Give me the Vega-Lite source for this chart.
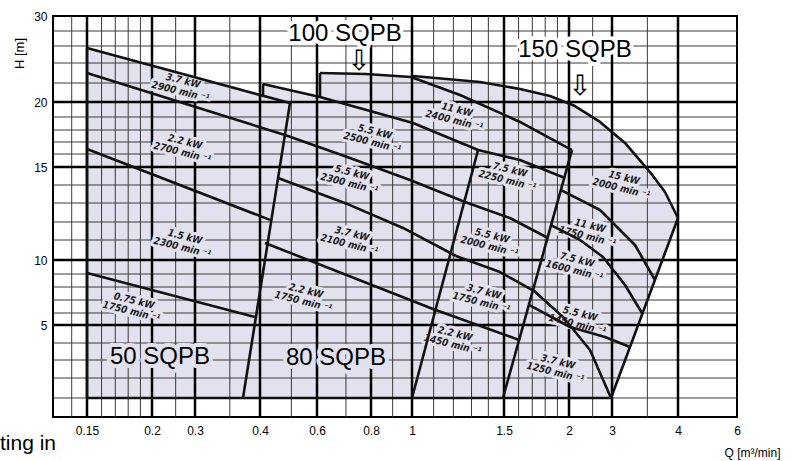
{
"$schema": "https://vega.github.io/schema/vega-lite/v6.json",
"width": 684, "height": 401,
"autosize": {"type": "none"},
"padding": {"left": 53, "top": 16, "right": 70, "bottom": 44},
"background": "#ffffff",
"config": {
  "view": {"stroke": "#000", "strokeWidth": 2},
  "font": "Liberation Sans",
  "axis": {"grid": false, "ticks": false, "domain": false, "labelFlush": false, "labelOverlap": false, "labelFont": "Liberation Sans", "labelFontSize": 12, "labelColor": "#000", "titleFont": "Liberation Sans", "titleFontWeight": "normal", "titleColor": "#000"}
},
"datasets": {
  "region": [
    {"q": 0.15, "h": 25.76, "h2": 1}, {"q": 0.4086, "h": 20.66, "h2": 1}, {"q": 0.4101, "h": 21.9, "h2": 1},
    {"q": 0.6097, "h": 20.53, "h2": 1}, {"q": 0.6113, "h": 23.0, "h2": 1}, {"q": 0.779, "h": 22.9, "h2": 1},
    {"q": 0.9946, "h": 22.6, "h2": 1}, {"q": 1.0044, "h": 22.7, "h2": 1}, {"q": 1.3495, "h": 22.1, "h2": 1},
    {"q": 1.61, "h": 21.37, "h2": 1}, {"q": 1.839, "h": 20.63, "h2": 1}, {"q": 2.116, "h": 19.73, "h2": 1},
    {"q": 2.679, "h": 18.62, "h2": 1}, {"q": 2.972, "h": 17.9, "h2": 1},
    {"q": 3.013, "h": 17.76, "h2": 1.27}, {"q": 3.175, "h": 16.92, "h2": 2.98}, {"q": 3.54, "h": 14.72, "h2": 7.52},
    {"q": 3.78, "h": 13.61, "h2": 10.36}, {"q": 4, "h": 12.21, "h2": 12.21}
  ],
  "vminor": [{"q": 0.125}, {"q": 0.16}, {"q": 0.17}, {"q": 0.18}, {"q": 0.19}, {"q": 0.25}, {"q": 0.35}, {"q": 0.5}, {"q": 0.7}, {"q": 0.9}, {"q": 1.1}, {"q": 1.2}, {"q": 1.3}, {"q": 1.4}, {"q": 1.6}, {"q": 1.7}, {"q": 1.8}, {"q": 1.9}, {"q": 2.5}, {"q": 3.5}],
  "vmajor": [{"q": 0.15}, {"q": 0.2}, {"q": 0.3}, {"q": 0.4}, {"q": 0.6}, {"q": 0.8}, {"q": 1}, {"q": 1.5}, {"q": 2}, {"q": 3}, {"q": 4}],
  "hminor": [{"h": 1}, {"h": 2}, {"h": 3}, {"h": 4}, {"h": 6}, {"h": 7}, {"h": 8}, {"h": 9}, {"h": 11}, {"h": 12}, {"h": 13}, {"h": 14}, {"h": 16}, {"h": 17}, {"h": 18}, {"h": 19}, {"h": 22}, {"h": 24}, {"h": 26}, {"h": 28}],
  "hmajor": [{"h": 5}, {"h": 10}, {"h": 15}, {"h": 20}],
  "curves": [
    {"id": "50a", "i": 0, "q": 0.15, "h": 25.76}, {"id": "50a", "i": 1, "q": 0.4952, "h": 19.93},
    {"id": "50b", "i": 0, "q": 0.15, "h": 23.0}, {"id": "50b", "i": 1, "q": 0.4778, "h": 17.58},
    {"id": "50c", "i": 0, "q": 0.15, "h": 16.42}, {"id": "50c", "i": 1, "q": 0.4295, "h": 12.11},
    {"id": "50d", "i": 0, "q": 0.15, "h": 9.07}, {"id": "50d", "i": 1, "q": 0.391, "h": 5.67},
    {"id": "edgeL", "i": 0, "q": 0.15, "h": 1}, {"id": "edgeL", "i": 1, "q": 0.15, "h": 25.76},
    {"id": "bottom", "i": 0, "q": 0.15, "h": 1}, {"id": "bottom", "i": 1, "q": 2.972, "h": 1},
    {"id": "B1", "i": 0, "q": 0.371, "h": 1}, {"id": "B1", "i": 1, "q": 0.4952, "h": 19.93},
    {"id": "V80", "i": 0, "q": 0.4086, "h": 21.9}, {"id": "V80", "i": 1, "q": 0.4086, "h": 20.63},
    {"id": "80a", "i": 0, "q": 0.4086, "h": 21.9}, {"id": "80a", "i": 1, "q": 0.6097, "h": 20.53}, {"id": "80a", "i": 2, "q": 1.0044, "h": 18.54}, {"id": "80a", "i": 3, "q": 1.338, "h": 16.33},
    {"id": "80b", "i": 0, "q": 0.4778, "h": 17.58}, {"id": "80b", "i": 1, "q": 0.7153, "h": 15.69}, {"id": "80b", "i": 2, "q": 0.9892, "h": 14.28}, {"id": "80b", "i": 3, "q": 1.263, "h": 13.06},
    {"id": "80c", "i": 0, "q": 0.4547, "h": 14.39}, {"id": "80c", "i": 1, "q": 0.7153, "h": 12.89}, {"id": "80c", "i": 2, "q": 0.9522, "h": 11.67}, {"id": "80c", "i": 3, "q": 1.214, "h": 10.2},
    {"id": "80d", "i": 0, "q": 0.4145, "h": 10.85}, {"id": "80d", "i": 1, "q": 1.097, "h": 6.31},
    {"id": "B2", "i": 0, "q": 1, "h": 1}, {"id": "B2", "i": 1, "q": 1.338, "h": 16.33},
    {"id": "V100", "i": 0, "q": 0.6097, "h": 23.0}, {"id": "V100", "i": 1, "q": 0.6097, "h": 20.53},
    {"id": "100a", "i": 0, "q": 0.6097, "h": 23.0}, {"id": "100a", "i": 1, "q": 0.779, "h": 22.9}, {"id": "100a", "i": 2, "q": 0.9946, "h": 22.6}, {"id": "100a", "i": 3, "q": 1.2356, "h": 20.74}, {"id": "100a", "i": 4, "q": 1.61, "h": 18.62}, {"id": "100a", "i": 5, "q": 2.057, "h": 16.33},
    {"id": "B3", "i": 0, "q": 1.493, "h": 1}, {"id": "B3", "i": 1, "q": 2.057, "h": 16.33},
    {"id": "100b", "i": 0, "q": 1.338, "h": 16.33}, {"id": "100b", "i": 1, "q": 1.61, "h": 15.54}, {"id": "100b", "i": 2, "q": 1.965, "h": 14.39},
    {"id": "100c", "i": 0, "q": 1.263, "h": 13.06}, {"id": "100c", "i": 1, "q": 1.54, "h": 12.21}, {"id": "100c", "i": 2, "q": 1.8225, "h": 11.11},
    {"id": "100d", "i": 0, "q": 1.214, "h": 10.2}, {"id": "100d", "i": 1, "q": 1.474, "h": 9.14}, {"id": "100d", "i": 2, "q": 1.698, "h": 7.77},
    {"id": "100e", "i": 0, "q": 1.097, "h": 6.31}, {"id": "100e", "i": 1, "q": 1.603, "h": 4.17},
    {"id": "150a", "i": 0, "q": 1.0044, "h": 22.7}, {"id": "150a", "i": 1, "q": 1.3495, "h": 22.1}, {"id": "150a", "i": 2, "q": 1.61, "h": 21.37}, {"id": "150a", "i": 3, "q": 1.839, "h": 20.63}, {"id": "150a", "i": 4, "q": 2.116, "h": 19.73}, {"id": "150a", "i": 5, "q": 2.679, "h": 18.62}, {"id": "150a", "i": 6, "q": 3.175, "h": 16.92}, {"id": "150a", "i": 7, "q": 3.54, "h": 14.72}, {"id": "150a", "i": 8, "q": 3.78, "h": 13.61}, {"id": "150a", "i": 9, "q": 4, "h": 12.21},
    {"id": "150b", "i": 0, "q": 1.9305, "h": 13.72}, {"id": "150b", "i": 1, "q": 2.679, "h": 12.63}, {"id": "150b", "i": 2, "q": 3.316, "h": 10.75}, {"id": "150b", "i": 3, "q": 3.618, "h": 8.54},
    {"id": "150c", "i": 0, "q": 1.847, "h": 11.83}, {"id": "150c", "i": 1, "q": 2.219, "h": 11}, {"id": "150c", "i": 2, "q": 2.756, "h": 10.15}, {"id": "150c", "i": 3, "q": 3.175, "h": 8.15}, {"id": "150c", "i": 4, "q": 3.419, "h": 6},
    {"id": "150d", "i": 0, "q": 1.6755, "h": 6.62}, {"id": "150d", "i": 1, "q": 2.019, "h": 4.89}, {"id": "150d", "i": 2, "q": 2.808, "h": 4.33}, {"id": "150d", "i": 3, "q": 3.245, "h": 3.76},
    {"id": "150e", "i": 0, "q": 1.7055, "h": 7.77}, {"id": "150e", "i": 1, "q": 1.948, "h": 5.67}, {"id": "150e", "i": 2, "q": 2.438, "h": 3.59}, {"id": "150e", "i": 3, "q": 2.972, "h": 1},
    {"id": "B5", "i": 0, "q": 2.972, "h": 1}, {"id": "B5", "i": 1, "q": 4, "h": 12.21}
  ],
  "kw": [
    {"q": 0.268, "h": 22.2, "t": "3.7 kW\n2900 min ⁻¹"},
    {"q": 0.273, "h": 17, "t": "2.2 kW\n2700 min ⁻¹"},
    {"q": 0.273, "h": 11.17, "t": "1.5 kW\n2300 min ⁻¹"},
    {"q": 0.1847, "h": 6.92, "t": "0.75 kW\n1750 min ⁻¹"},
    {"q": 0.8176, "h": 17.83, "t": "5.5 kW\n2500 min ⁻¹"},
    {"q": 0.723, "h": 14.67, "t": "5.5 kW\n2300 min ⁻¹"},
    {"q": 0.723, "h": 11.33, "t": "3.7 kW\n2100 min ⁻¹"},
    {"q": 0.5548, "h": 7.69, "t": "2.2 kW\n1750 min ⁻¹"},
    {"q": 1.219, "h": 19.47, "t": "11 kW\n2400 min ⁻¹"},
    {"q": 1.54, "h": 14.83, "t": "7.5 kW\n2250 min ⁻¹"},
    {"q": 1.423, "h": 11.22, "t": "5.5 kW\n2000 min ⁻¹"},
    {"q": 1.373, "h": 7.62, "t": "3.7 kW\n1750 min ⁻¹"},
    {"q": 1.209, "h": 4.5, "t": "2.2 kW\n1450 min ⁻¹"},
    {"q": 3.161, "h": 14.39, "t": "15 kW\n2000 min ⁻¹"},
    {"q": 2.438, "h": 11.78, "t": "11 kW\n1750 min ⁻¹"},
    {"q": 2.157, "h": 10, "t": "7.5 kW\n1600 min ⁻¹"},
    {"q": 2.219, "h": 5.92, "t": "5.5 kW\n1450 min ⁻¹"},
    {"q": 1.905, "h": 2.89, "t": "3.7 kW\n1250 min ⁻¹"}
  ],
  "bigIn": [{"q": 0.2157, "h": 3.18, "t": "50 SQPB"}, {"q": 0.664, "h": 3.12, "t": "80 SQPB"}],
  "bigOut": [{"q": 0.6965, "h": 27.6, "t": "100 SQPB"}, {"q": 2.116, "h": 25.53, "t": "150 SQPB"}],
  "arrows": [{"q": 0.7504, "h": 24.12, "t": "⇩"}, {"q": 2.219, "h": 21.58, "t": "⇩"}]
},
"layer": [
  {"data": {"name": "region"}, "mark": {"type": "area", "color": "#e2e2ee"},
   "encoding": {
     "x": {"field": "q", "type": "quantitative", "scale": {"type": "log", "domain": [0.1, 0.15, 0.2, 0.3, 0.4, 0.6, 0.8, 1, 1.5, 2, 3, 4, 6], "range": [0, 34, 99, 142, 207, 264, 318, 359, 451, 516, 559, 625, 684], "nice": false},
       "axis": {"values": [0.15, 0.2, 0.3, 0.4, 0.6, 0.8, 1, 1.5, 2, 3, 4, 6], "format": "~g", "labelPadding": 8, "title": "Q [m³/min]", "titleFontSize": 12, "titleX": 699, "titleY": 35, "titleBaseline": "middle", "titleAlign": "center"}},
     "y": {"field": "h", "type": "quantitative", "scale": {"type": "linear", "domain": [0, 1, 2, 3, 4, 5, 6, 7, 8, 9, 10, 11, 12, 13, 14, 15, 16, 17, 18, 19, 20, 22, 24, 26, 28, 30], "range": [401, 382, 362, 344, 327, 309, 297, 284, 271, 258, 244, 224, 206, 187, 169, 151, 138, 126, 114, 101, 86, 67, 47, 30, 15, 0], "nice": false, "zero": false},
       "axis": {"values": [5, 10, 15, 20, 30], "labelPadding": 6, "title": "H [m]", "titleFontSize": 13, "titleX": -34, "titleY": 37, "titleAlign": "center", "titleBaseline": "middle", "titleAngle": -90}},
     "y2": {"field": "h2"}
   }},
  {"data": {"name": "vminor"}, "mark": {"type": "rule", "color": "#3a3a3a", "strokeWidth": 1},
   "encoding": {"x": {"field": "q", "type": "quantitative", "scale": {"type": "log", "domain": [0.1, 0.15, 0.2, 0.3, 0.4, 0.6, 0.8, 1, 1.5, 2, 3, 4, 6], "range": [0, 34, 99, 142, 207, 264, 318, 359, 451, 516, 559, 625, 684], "nice": false}}}},
  {"data": {"name": "hminor"}, "mark": {"type": "rule", "color": "#3a3a3a", "strokeWidth": 1},
   "encoding": {"y": {"field": "h", "type": "quantitative", "scale": {"type": "linear", "domain": [0, 1, 2, 3, 4, 5, 6, 7, 8, 9, 10, 11, 12, 13, 14, 15, 16, 17, 18, 19, 20, 22, 24, 26, 28, 30], "range": [401, 382, 362, 344, 327, 309, 297, 284, 271, 258, 244, 224, 206, 187, 169, 151, 138, 126, 114, 101, 86, 67, 47, 30, 15, 0], "nice": false, "zero": false}}}},
  {"data": {"name": "vmajor"}, "mark": {"type": "rule", "color": "#000", "strokeWidth": 2.5},
   "encoding": {"x": {"field": "q", "type": "quantitative", "scale": {"type": "log", "domain": [0.1, 0.15, 0.2, 0.3, 0.4, 0.6, 0.8, 1, 1.5, 2, 3, 4, 6], "range": [0, 34, 99, 142, 207, 264, 318, 359, 451, 516, 559, 625, 684], "nice": false}}}},
  {"data": {"name": "hmajor"}, "mark": {"type": "rule", "color": "#000", "strokeWidth": 2.5},
   "encoding": {"y": {"field": "h", "type": "quantitative", "scale": {"type": "linear", "domain": [0, 1, 2, 3, 4, 5, 6, 7, 8, 9, 10, 11, 12, 13, 14, 15, 16, 17, 18, 19, 20, 22, 24, 26, 28, 30], "range": [401, 382, 362, 344, 327, 309, 297, 284, 271, 258, 244, 224, 206, 187, 169, 151, 138, 126, 114, 101, 86, 67, 47, 30, 15, 0], "nice": false, "zero": false}}}},
  {"data": {"name": "kw"}, "mark": {"type": "text", "font": "'DejaVu Sans Condensed', 'DejaVu Sans', sans-serif", "fontSize": 10, "fontStyle": "italic", "fontWeight": "bold", "angle": 14, "lineBreak": "\n", "lineHeight": 11, "color": "#e2e2ee", "stroke": "#e2e2ee", "strokeWidth": 6, "strokeJoin": "round"},
   "encoding": {"x": {"field": "q", "type": "quantitative", "scale": {"type": "log", "domain": [0.1, 0.15, 0.2, 0.3, 0.4, 0.6, 0.8, 1, 1.5, 2, 3, 4, 6], "range": [0, 34, 99, 142, 207, 264, 318, 359, 451, 516, 559, 625, 684], "nice": false}},
     "y": {"field": "h", "type": "quantitative", "scale": {"type": "linear", "domain": [0, 1, 2, 3, 4, 5, 6, 7, 8, 9, 10, 11, 12, 13, 14, 15, 16, 17, 18, 19, 20, 22, 24, 26, 28, 30], "range": [401, 382, 362, 344, 327, 309, 297, 284, 271, 258, 244, 224, 206, 187, 169, 151, 138, 126, 114, 101, 86, 67, 47, 30, 15, 0], "nice": false, "zero": false}},
     "text": {"field": "t"}}},
  {"data": {"name": "bigIn"}, "mark": {"type": "text", "fontSize": 24, "color": "#e2e2ee", "stroke": "#e2e2ee", "strokeWidth": 8, "strokeJoin": "round"},
   "encoding": {"x": {"field": "q", "type": "quantitative", "scale": {"type": "log", "domain": [0.1, 0.15, 0.2, 0.3, 0.4, 0.6, 0.8, 1, 1.5, 2, 3, 4, 6], "range": [0, 34, 99, 142, 207, 264, 318, 359, 451, 516, 559, 625, 684], "nice": false}},
     "y": {"field": "h", "type": "quantitative", "scale": {"type": "linear", "domain": [0, 1, 2, 3, 4, 5, 6, 7, 8, 9, 10, 11, 12, 13, 14, 15, 16, 17, 18, 19, 20, 22, 24, 26, 28, 30], "range": [401, 382, 362, 344, 327, 309, 297, 284, 271, 258, 244, 224, 206, 187, 169, 151, 138, 126, 114, 101, 86, 67, 47, 30, 15, 0], "nice": false, "zero": false}},
     "text": {"field": "t"}}},
  {"data": {"name": "bigOut"}, "mark": {"type": "text", "fontSize": 24, "color": "#ffffff", "stroke": "#ffffff", "strokeWidth": 8, "strokeJoin": "round"},
   "encoding": {"x": {"field": "q", "type": "quantitative", "scale": {"type": "log", "domain": [0.1, 0.15, 0.2, 0.3, 0.4, 0.6, 0.8, 1, 1.5, 2, 3, 4, 6], "range": [0, 34, 99, 142, 207, 264, 318, 359, 451, 516, 559, 625, 684], "nice": false}},
     "y": {"field": "h", "type": "quantitative", "scale": {"type": "linear", "domain": [0, 1, 2, 3, 4, 5, 6, 7, 8, 9, 10, 11, 12, 13, 14, 15, 16, 17, 18, 19, 20, 22, 24, 26, 28, 30], "range": [401, 382, 362, 344, 327, 309, 297, 284, 271, 258, 244, 224, 206, 187, 169, 151, 138, 126, 114, 101, 86, 67, 47, 30, 15, 0], "nice": false, "zero": false}},
     "text": {"field": "t"}}},
  {"data": {"name": "curves"}, "mark": {"type": "line", "color": "#111", "strokeWidth": 2.6, "strokeJoin": "round"},
   "encoding": {"x": {"field": "q", "type": "quantitative", "scale": {"type": "log", "domain": [0.1, 0.15, 0.2, 0.3, 0.4, 0.6, 0.8, 1, 1.5, 2, 3, 4, 6], "range": [0, 34, 99, 142, 207, 264, 318, 359, 451, 516, 559, 625, 684], "nice": false}},
     "y": {"field": "h", "type": "quantitative", "scale": {"type": "linear", "domain": [0, 1, 2, 3, 4, 5, 6, 7, 8, 9, 10, 11, 12, 13, 14, 15, 16, 17, 18, 19, 20, 22, 24, 26, 28, 30], "range": [401, 382, 362, 344, 327, 309, 297, 284, 271, 258, 244, 224, 206, 187, 169, 151, 138, 126, 114, 101, 86, 67, 47, 30, 15, 0], "nice": false, "zero": false}},
     "detail": {"field": "id"}, "order": {"field": "i", "type": "quantitative"}}},
  {"data": {"name": "kw"}, "mark": {"type": "text", "font": "'DejaVu Sans Condensed', 'DejaVu Sans', sans-serif", "fontSize": 10, "fontStyle": "italic", "fontWeight": "bold", "angle": 14, "lineBreak": "\n", "lineHeight": 11, "color": "#1a1a1a"},
   "encoding": {"x": {"field": "q", "type": "quantitative", "scale": {"type": "log", "domain": [0.1, 0.15, 0.2, 0.3, 0.4, 0.6, 0.8, 1, 1.5, 2, 3, 4, 6], "range": [0, 34, 99, 142, 207, 264, 318, 359, 451, 516, 559, 625, 684], "nice": false}},
     "y": {"field": "h", "type": "quantitative", "scale": {"type": "linear", "domain": [0, 1, 2, 3, 4, 5, 6, 7, 8, 9, 10, 11, 12, 13, 14, 15, 16, 17, 18, 19, 20, 22, 24, 26, 28, 30], "range": [401, 382, 362, 344, 327, 309, 297, 284, 271, 258, 244, 224, 206, 187, 169, 151, 138, 126, 114, 101, 86, 67, 47, 30, 15, 0], "nice": false, "zero": false}},
     "text": {"field": "t"}}},
  {"data": {"name": "bigIn"}, "mark": {"type": "text", "fontSize": 24, "color": "#000"},
   "encoding": {"x": {"field": "q", "type": "quantitative", "scale": {"type": "log", "domain": [0.1, 0.15, 0.2, 0.3, 0.4, 0.6, 0.8, 1, 1.5, 2, 3, 4, 6], "range": [0, 34, 99, 142, 207, 264, 318, 359, 451, 516, 559, 625, 684], "nice": false}},
     "y": {"field": "h", "type": "quantitative", "scale": {"type": "linear", "domain": [0, 1, 2, 3, 4, 5, 6, 7, 8, 9, 10, 11, 12, 13, 14, 15, 16, 17, 18, 19, 20, 22, 24, 26, 28, 30], "range": [401, 382, 362, 344, 327, 309, 297, 284, 271, 258, 244, 224, 206, 187, 169, 151, 138, 126, 114, 101, 86, 67, 47, 30, 15, 0], "nice": false, "zero": false}},
     "text": {"field": "t"}}},
  {"data": {"name": "bigOut"}, "mark": {"type": "text", "fontSize": 24, "color": "#000"},
   "encoding": {"x": {"field": "q", "type": "quantitative", "scale": {"type": "log", "domain": [0.1, 0.15, 0.2, 0.3, 0.4, 0.6, 0.8, 1, 1.5, 2, 3, 4, 6], "range": [0, 34, 99, 142, 207, 264, 318, 359, 451, 516, 559, 625, 684], "nice": false}},
     "y": {"field": "h", "type": "quantitative", "scale": {"type": "linear", "domain": [0, 1, 2, 3, 4, 5, 6, 7, 8, 9, 10, 11, 12, 13, 14, 15, 16, 17, 18, 19, 20, 22, 24, 26, 28, 30], "range": [401, 382, 362, 344, 327, 309, 297, 284, 271, 258, 244, 224, 206, 187, 169, 151, 138, 126, 114, 101, 86, 67, 47, 30, 15, 0], "nice": false, "zero": false}},
     "text": {"field": "t"}}},
  {"data": {"name": "arrows"}, "mark": {"type": "text", "fontSize": 28, "font": "DejaVu Sans", "color": "#000"},
   "encoding": {"x": {"field": "q", "type": "quantitative", "scale": {"type": "log", "domain": [0.1, 0.15, 0.2, 0.3, 0.4, 0.6, 0.8, 1, 1.5, 2, 3, 4, 6], "range": [0, 34, 99, 142, 207, 264, 318, 359, 451, 516, 559, 625, 684], "nice": false}},
     "y": {"field": "h", "type": "quantitative", "scale": {"type": "linear", "domain": [0, 1, 2, 3, 4, 5, 6, 7, 8, 9, 10, 11, 12, 13, 14, 15, 16, 17, 18, 19, 20, 22, 24, 26, 28, 30], "range": [401, 382, 362, 344, 327, 309, 297, 284, 271, 258, 244, 224, 206, 187, 169, 151, 138, 126, 114, 101, 86, 67, 47, 30, 15, 0], "nice": false, "zero": false}},
     "text": {"field": "t"}}},
  {"data": {"values": [{"t": "ting in", "q": 0.1, "h": 0}]}, "mark": {"type": "text", "fontSize": 21, "align": "left", "baseline": "alphabetic", "color": "#000", "dx": -53, "dy": 33},
   "encoding": {"x": {"field": "q", "type": "quantitative", "scale": {"type": "log", "domain": [0.1, 0.15, 0.2, 0.3, 0.4, 0.6, 0.8, 1, 1.5, 2, 3, 4, 6], "range": [0, 34, 99, 142, 207, 264, 318, 359, 451, 516, 559, 625, 684], "nice": false}},
     "y": {"field": "h", "type": "quantitative", "scale": {"type": "linear", "domain": [0, 1, 2, 3, 4, 5, 6, 7, 8, 9, 10, 11, 12, 13, 14, 15, 16, 17, 18, 19, 20, 22, 24, 26, 28, 30], "range": [401, 382, 362, 344, 327, 309, 297, 284, 271, 258, 244, 224, 206, 187, 169, 151, 138, 126, 114, 101, 86, 67, 47, 30, 15, 0], "nice": false, "zero": false}},
     "text": {"field": "t"}}}
]
}
